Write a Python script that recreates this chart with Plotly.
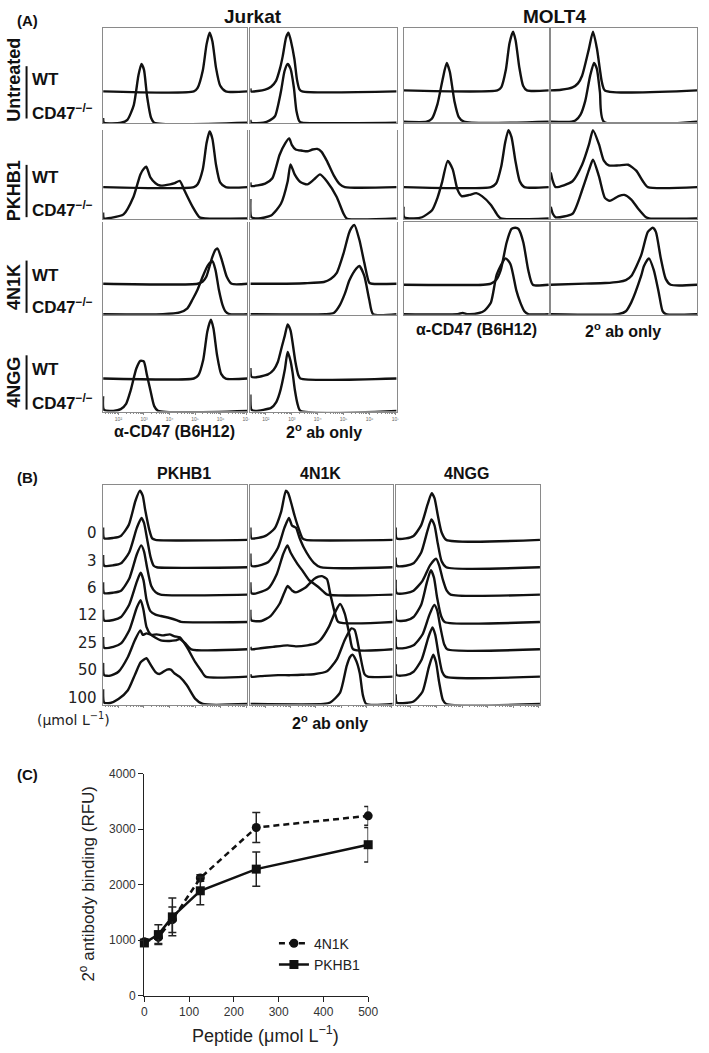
import plotly.graph_objects as go

W, H = 709, 1053

# ---------------- Panel A data: (log10 fluorescence, normalised count) ----------------
# Jurkat, alpha-CD47 (B6H12) column
JUR_UNT_AB_WT = [(1.4,0),(4.95,0),(5.1,0.06),(5.3,0.35),(5.45,0.8),(5.57,1.0),(5.68,0.85),(5.82,0.4),(5.98,0.1),(6.2,0),(7.05,0)]
JUR_UNT_AB_KO = [(1.4,0.08),(1.43,0),(2.1,0),(2.35,0.05),(2.6,0.3),(2.78,0.8),(2.9,1.0),(3.0,0.9),(3.12,0.45),(3.28,0.08),(3.4,0),(7.05,0)]
JUR_PK_AB_WT = [(1.4,0),(4.95,0),(5.1,0.05),(5.3,0.3),(5.45,0.75),(5.57,0.95),(5.68,0.82),(5.82,0.38),(5.98,0.08),(6.2,0),(7.05,0)]
JUR_PK_AB_KO = [(1.4,0.1),(1.43,0),(1.7,0.01),(2.2,0.07),(2.59,0.37),(2.86,0.75),(3.0,0.85),(3.09,0.88),(3.25,0.7),(3.45,0.6),(3.63,0.56),(4.02,0.58),(4.2,0.6),(4.4,0.64),(4.59,0.47),(4.9,0.2),(5.17,0.02),(5.4,0),(7.05,0)]
JUR_N1K_AB_WT = [(1.4,0),(5.1,0),(5.3,0.04),(5.44,0.12),(5.67,0.45),(5.8,0.58),(5.88,0.6),(6.05,0.4),(6.24,0.12),(6.43,0),(7.05,0)]
JUR_N1K_AB_KO = [(1.4,0),(3.74,0),(4.4,0.03),(4.7,0.1),(4.9,0.25),(5.1,0.42),(5.3,0.64),(5.5,0.83),(5.68,0.9),(5.8,0.75),(5.93,0.42),(6.08,0.15),(6.2,0.04),(6.35,0),(7.05,0)]
JUR_NGG_AB_WT = [(1.4,0),(4.95,0),(5.12,0.05),(5.32,0.32),(5.48,0.8),(5.62,1.0),(5.72,0.85),(5.86,0.4),(6.02,0.08),(6.2,0),(7.05,0)]
JUR_NGG_AB_KO = [(1.4,0.25),(1.43,0.02),(1.8,0),(2.09,0.03),(2.3,0.12),(2.48,0.35),(2.7,0.72),(2.86,0.85),(2.99,0.84),(3.12,0.6),(3.25,0.35),(3.4,0.08),(3.55,0),(7.05,0)]
# Jurkat, 2nd antibody only column
JUR_UNT_2AB_WT = [(1.4,0.05),(1.43,0),(1.97,0.03),(2.2,0.08),(2.39,0.18),(2.55,0.4),(2.65,0.6),(2.78,0.92),(2.87,1.0),(2.97,0.85),(3.1,0.55),(3.2,0.2),(3.29,0.04),(3.4,0),(7.05,0)]
JUR_UNT_2AB_KO = [(1.4,0.05),(1.43,0),(1.9,0),(2.15,0.04),(2.35,0.11),(2.58,0.53),(2.72,0.88),(2.84,1.0),(2.95,0.92),(3.08,0.6),(3.18,0.2),(3.3,0.02),(3.4,0),(7.05,0)]
JUR_PK_2AB_WT = [(1.4,0.08),(1.43,0.02),(1.97,0.06),(2.25,0.15),(2.53,0.55),(2.75,0.75),(2.9,0.83),(3.0,0.72),(3.15,0.64),(3.4,0.62),(3.6,0.61),(3.8,0.64),(3.98,0.65),(4.15,0.6),(4.35,0.45),(4.62,0.2),(4.85,0.05),(5.05,0),(7.05,0)]
JUR_PK_2AB_KO = [(1.4,0.33),(1.44,0.02),(1.7,0),(2.2,0.05),(2.58,0.25),(2.84,0.63),(2.95,0.92),(3.11,0.75),(3.33,0.62),(3.6,0.58),(3.85,0.66),(4.09,0.75),(4.36,0.63),(4.73,0.37),(5.0,0.08),(5.12,0),(7.05,0)]
JUR_N1K_2AB_WT = [(1.4,0),(2.5,0),(3.5,0.01),(4.24,0.03),(4.5,0.08),(4.73,0.18),(5.0,0.52),(5.2,0.85),(5.3,0.95),(5.42,1.0),(5.61,0.75),(5.8,0.36),(5.99,0.02),(6.1,0),(7.05,0)]
JUR_N1K_2AB_KO = [(1.4,0),(4.3,0),(4.62,0.02),(4.85,0.15),(5.05,0.35),(5.23,0.58),(5.5,0.78),(5.61,0.82),(5.8,0.65),(5.99,0.25),(6.14,0),(7.05,0)]
JUR_NGG_2AB_WT = [(1.4,0.18),(1.44,0.03),(1.59,0.02),(2.08,0.07),(2.3,0.15),(2.46,0.28),(2.62,0.55),(2.73,0.73),(2.84,0.92),(2.95,0.82),(3.05,0.55),(3.14,0.28),(3.25,0.06),(3.33,0),(7.05,0)]
JUR_NGG_2AB_KO = [(1.4,0.28),(1.44,0.02),(1.6,0),(2.2,0.05),(2.4,0.15),(2.53,0.3),(2.73,0.7),(2.84,1.0),(2.95,0.85),(3.03,0.65),(3.12,0.35),(3.22,0.12),(3.33,0),(7.05,0)]
# MOLT4, alpha-CD47 (B6H12) column
MOLT_UNT_AB_WT = [(1.4,0),(5.05,0),(5.2,0.05),(5.38,0.35),(5.52,0.8),(5.66,1.0),(5.76,0.85),(5.9,0.4),(6.05,0.08),(6.2,0),(7.05,0)]
MOLT_UNT_AB_KO = [(1.4,0),(2.3,0),(2.5,0.05),(2.72,0.3),(2.92,0.72),(3.08,1.0),(3.2,0.85),(3.38,0.35),(3.55,0.08),(3.75,0),(7.05,0)]
MOLT_PK_AB_WT = [(1.4,0),(4.8,0),(5.0,0.06),(5.2,0.35),(5.35,0.75),(5.48,0.97),(5.6,0.85),(5.75,0.45),(5.92,0.1),(6.1,0),(7.05,0)]
MOLT_PK_AB_KO = [(1.4,0.2),(1.43,0.02),(1.8,0),(2.12,0.02),(2.51,0.14),(2.72,0.35),(2.89,0.6),(3.12,0.98),(3.31,0.84),(3.5,0.49),(3.66,0.38),(3.96,0.4),(4.23,0.43),(4.45,0.38),(4.8,0.23),(5.05,0.06),(5.18,0),(7.05,0)]
MOLT_N1K_AB_WT = [(1.4,0),(4.5,0),(4.8,0.02),(5.0,0.08),(5.18,0.25),(5.41,0.72),(5.6,0.95),(5.75,0.97),(5.87,0.95),(6.06,0.72),(6.25,0.25),(6.43,0),(7.05,0)]
MOLT_N1K_AB_KO = [(1.4,0),(3.5,0),(3.7,0.02),(3.9,0),(4.34,0.02),(4.55,0.06),(4.8,0.2),(5.03,0.68),(5.37,0.95),(5.56,0.85),(5.79,0.4),(5.94,0.2),(6.1,0.05),(6.25,0),(7.05,0)]
# MOLT4, 2nd antibody only column
MOLT_UNT_2AB_WT = [(1.4,0),(1.8,0.01),(2.24,0.05),(2.45,0.12),(2.61,0.25),(2.88,0.72),(3.03,1.0),(3.18,0.72),(3.3,0.35),(3.37,0.15),(3.49,0),(7.05,0)]
MOLT_UNT_2AB_KO = [(1.4,0),(2.2,0),(2.35,0.02),(2.55,0.12),(2.73,0.35),(2.92,0.78),(3.07,1.0),(3.18,0.9),(3.3,0.5),(3.45,0),(7.05,0)]
MOLT_PK_2AB_WT = [(1.4,0.25),(1.48,0.1),(1.59,0),(2.24,0.1),(2.61,0.38),(2.88,0.73),(3.03,0.97),(3.26,0.73),(3.45,0.45),(3.64,0.37),(4.02,0.37),(4.39,0.38),(4.7,0.28),(4.96,0.1),(5.15,0),(7.05,0)]
MOLT_PK_2AB_KO = [(1.4,0.2),(1.48,0.08),(1.59,0.02),(2.24,0.08),(2.61,0.48),(2.88,0.83),(3.03,1.0),(3.26,0.72),(3.49,0.35),(3.68,0.3),(4.02,0.38),(4.24,0.4),(4.51,0.32),(4.77,0.17),(5.08,0.02),(5.2,0),(7.05,0)]
MOLT_N1K_2AB_WT = [(1.4,0),(2.73,0.02),(3.5,0.03),(4.02,0.05),(4.3,0.08),(4.51,0.15),(4.89,0.5),(5.15,0.9),(5.34,0.97),(5.46,0.9),(5.65,0.45),(5.84,0.1),(6.03,0),(7.05,0)]
MOLT_N1K_2AB_KO = [(1.4,0),(4.0,0),(4.3,0.05),(4.51,0.2),(4.89,0.65),(5.0,0.82),(5.19,0.95),(5.38,0.75),(5.57,0.37),(5.72,0.05),(5.85,0),(7.05,0)]

# ---------------- Panel B data: peptide dose series (µmol/L) ----------------
DOSE_LABELS = ["0", "3", "6", "12", "25", "50", "100"]
B_PK_D0 = [(1.4,0.25),(1.44,0.03),(1.8,0.04),(2.09,0.08),(2.4,0.3),(2.67,0.8),(2.84,1.0),(2.95,0.9),(3.05,0.6),(3.21,0.2),(3.32,0.03),(3.45,0),(7.05,0)]
B_PK_D3 = [(1.4,0.25),(1.44,0.03),(1.8,0.04),(2.1,0.08),(2.42,0.3),(2.72,0.8),(2.9,1.0),(3.0,0.9),(3.12,0.58),(3.26,0.2),(3.38,0.03),(3.5,0),(7.05,0)]
B_PK_D6 = [(1.4,0.25),(1.44,0.03),(1.8,0.04),(2.1,0.08),(2.42,0.32),(2.72,0.82),(2.89,1.0),(3.0,0.88),(3.12,0.55),(3.28,0.18),(3.45,0.05),(3.65,0),(7.05,0)]
B_PK_D12 = [(1.4,0.25),(1.44,0.03),(1.8,0.04),(2.1,0.1),(2.42,0.35),(2.72,0.82),(2.87,1.0),(2.98,0.85),(3.1,0.45),(3.25,0.22),(3.45,0.15),(3.66,0.12),(4.0,0.08),(4.3,0.03),(4.45,0),(7.05,0)]
B_PK_D25 = [(1.4,0.25),(1.44,0.03),(1.8,0.05),(2.1,0.12),(2.42,0.38),(2.72,0.85),(2.87,1.0),(2.98,0.8),(3.1,0.45),(3.26,0.3),(3.66,0.18),(4.0,0.17),(4.23,0.18),(4.4,0.21),(4.62,0.12),(4.85,0),(7.05,0)]
B_PK_D50 = [(1.4,0.28),(1.44,0.03),(1.68,0.02),(2.0,0.1),(2.37,0.4),(2.65,0.75),(2.86,0.94),(2.95,0.85),(3.1,0.88),(3.3,0.85),(3.5,0.86),(3.75,0.84),(4.0,0.86),(4.2,0.82),(4.4,0.8),(4.68,0.6),(5.0,0.3),(5.24,0.12),(5.41,0),(7.05,0)]
B_PK_D100 = [(1.4,0.3),(1.44,0.03),(1.68,0.02),(2.0,0.1),(2.37,0.28),(2.65,0.6),(2.87,0.85),(3.1,0.93),(3.2,0.85),(3.45,0.65),(3.6,0.61),(3.9,0.7),(4.05,0.7),(4.2,0.62),(4.4,0.55),(4.68,0.38),(5.0,0.11),(5.3,0),(7.05,0)]
B_N1K_D0 = [(1.4,0.25),(1.44,0.03),(1.58,0.03),(2.0,0.08),(2.36,0.23),(2.62,0.57),(2.81,1.0),(2.9,0.95),(3.01,0.77),(3.15,0.5),(3.27,0.3),(3.47,0.03),(3.6,0),(7.05,0)]
B_N1K_D3 = [(1.4,0.28),(1.44,0.03),(1.6,0.02),(2.1,0.1),(2.49,0.39),(2.75,0.8),(2.93,1.0),(3.05,0.85),(3.21,0.8),(3.35,0.6),(3.53,0.39),(3.75,0.2),(3.92,0.09),(4.18,0),(7.05,0)]
B_N1K_D6 = [(1.4,0.25),(1.44,0.03),(1.6,0.02),(2.1,0.12),(2.45,0.42),(2.7,0.82),(2.87,1.0),(3.0,0.85),(3.26,0.63),(3.49,0.47),(3.72,0.3),(4.06,0.17),(4.3,0.06),(4.45,0),(7.05,0)]
B_N1K_D12 = [(1.4,0.25),(1.44,0.03),(1.84,0.02),(2.2,0.12),(2.56,0.37),(2.75,0.6),(2.88,0.73),(3.05,0.64),(3.21,0.6),(3.59,0.7),(3.92,0.87),(4.1,0.92),(4.24,0.93),(4.44,0.87),(4.57,0.57),(4.76,0.17),(4.89,0),(7.05,0)]
B_N1K_D25 = [(1.4,0.05),(1.44,0.0),(1.8,0.02),(2.3,0.05),(2.88,0.08),(3.2,0.06),(3.66,0.08),(4.0,0.12),(4.18,0.19),(4.51,0.45),(4.76,0.75),(4.96,0.92),(5.15,0.72),(5.35,0.25),(5.48,0),(7.05,0)]
B_N1K_D50 = [(1.4,0.05),(1.44,0.0),(1.8,0.01),(2.5,0.03),(3.0,0.03),(3.5,0.04),(3.92,0.05),(4.44,0.11),(4.83,0.35),(5.15,0.75),(5.41,0.98),(5.54,0.95),(5.74,0.48),(5.93,0.05),(6.06,0),(7.05,0)]
B_N1K_D100 = [(1.4,0),(4.3,0),(4.57,0.03),(4.96,0.23),(5.22,0.77),(5.35,0.95),(5.45,1.0),(5.6,0.88),(5.74,0.63),(5.87,0.17),(6.0,0),(7.05,0)]
B_NGG_D0 = [(1.4,0.25),(1.44,0.03),(1.8,0.03),(2.1,0.08),(2.4,0.3),(2.65,0.72),(2.81,0.95),(2.92,0.85),(3.05,0.5),(3.2,0.15),(3.38,0),(7.05,0)]
B_NGG_D3 = [(1.4,0.2),(1.44,0.03),(1.8,0.03),(2.1,0.08),(2.4,0.3),(2.65,0.75),(2.8,0.97),(2.92,0.85),(3.05,0.48),(3.2,0.12),(3.38,0),(7.05,0)]
B_NGG_D6 = [(1.4,0.3),(1.44,0.03),(1.8,0.03),(2.1,0.08),(2.45,0.28),(2.75,0.6),(2.98,0.73),(3.1,0.6),(3.25,0.3),(3.4,0.08),(3.55,0),(7.05,0)]
B_NGG_D12 = [(1.4,0.25),(1.44,0.03),(1.8,0.03),(2.1,0.1),(2.4,0.35),(2.62,0.8),(2.78,1.05),(2.9,0.9),(3.02,0.5),(3.18,0.12),(3.32,0),(7.05,0)]
B_NGG_D25 = [(1.4,0.25),(1.44,0.03),(1.8,0.03),(2.1,0.08),(2.45,0.3),(2.72,0.7),(2.91,0.9),(3.02,0.8),(3.15,0.45),(3.3,0.1),(3.42,0),(7.05,0)]
B_NGG_D50 = [(1.4,0.25),(1.44,0.03),(1.8,0.03),(2.1,0.1),(2.42,0.35),(2.68,0.8),(2.84,1.0),(2.95,0.85),(3.08,0.45),(3.22,0.1),(3.35,0),(7.05,0)]
B_NGG_D100 = [(1.4,0.2),(1.44,0.03),(1.8,0.02),(2.1,0.05),(2.45,0.25),(2.7,0.75),(2.87,1.0),(2.98,0.85),(3.1,0.45),(3.25,0.08),(3.38,0),(7.05,0)]

# ---------------- Panel C data ----------------
PEPTIDE_UM = [0, 31.25, 62.5, 125, 250, 500]
N1K_MEAN = [970, 1050, 1370, 2120, 3030, 3240]
N1K_SD = [50, 110, 230, 60, 270, 170]
PKHB1_MEAN = [950, 1100, 1420, 1890, 2280, 2720]
PKHB1_SD = [60, 180, 340, 250, 310, 310]

DECADE_TICKS = [2, 3, 4, 5, 6, 7]
DECADE_TEXT = ["10²", "10³", "10⁴", "10⁵", "10⁶", "10⁷"]

# ---------------- figure building ----------------
ARIAL = "Liberation Sans, Arial, sans-serif"
VERD = "DejaVu Sans, Verdana, sans-serif"
BOX = "#8a8a8a"
fig = go.Figure()
_n = [0]


def px_x(v):
    return v / W


def px_y(v):
    return 1 - v / H


def add_cell(left, top, right, bottom, unit, curves, top_line=True, labels=False, ticks=False):
    _n[0] += 1
    n = _n[0]
    xa, ya = ("x", "y") if n == 1 else (f"x{n}", f"y{n}")
    ymax = (bottom - top) / unit
    for pts, off_px in curves:
        fig.add_trace(go.Scatter(
            x=[10 ** p[0] for p in pts], y=[p[1] + off_px / unit for p in pts],
            mode="lines", xaxis=xa, yaxis=ya, showlegend=False, hoverinfo="skip",
            line=dict(color="#111", width=2.4, shape="spline", smoothing=0.6)))
    xk = "xaxis" if n == 1 else f"xaxis{n}"
    yk = "yaxis" if n == 1 else f"yaxis{n}"
    xaxis = dict(domain=[px_x(left), px_x(right)], anchor=ya, type="log", range=[1.4, 7.05],
                 showgrid=False, zeroline=False, showline=True, linecolor=BOX, linewidth=1,
                 mirror=top_line, showticklabels=False, ticks="", fixedrange=True)
    if labels or ticks:
        xaxis.update(tickvals=[10 ** d for d in DECADE_TICKS], ticks="outside", ticklen=2,
                     tickcolor=BOX, tickwidth=1,
                     minor=dict(ticks="outside", ticklen=1.5, tickcolor=BOX, dtick="D1"))
    if labels:
        xaxis.update(showticklabels=True, ticktext=DECADE_TEXT,
                     tickfont=dict(size=5, color="#666", family=ARIAL))
    fig.update_layout(**{
        xk: xaxis,
        yk: dict(domain=[px_y(bottom), px_y(top)], anchor=xa, range=[-0.012, ymax],
                 showgrid=False, zeroline=False, showline=True, linecolor=BOX, linewidth=1,
                 mirror=True, showticklabels=False, ticks="", fixedrange=True),
    })


# Panel A: Jurkat (rows: top, bottom, WT offset px)
JUR_ROWS = [(21, 118, 32, True), (125, 215, 32, False), (218, 312, 31, False), (312, 410, 33, False)]
JUR_AB = [(JUR_UNT_AB_WT, JUR_UNT_AB_KO), (JUR_PK_AB_WT, JUR_PK_AB_KO),
          (JUR_N1K_AB_WT, JUR_N1K_AB_KO), (JUR_NGG_AB_WT, JUR_NGG_AB_KO)]
JUR_2AB = [(JUR_UNT_2AB_WT, JUR_UNT_2AB_KO), (JUR_PK_2AB_WT, JUR_PK_2AB_KO),
           (JUR_N1K_2AB_WT, JUR_N1K_2AB_KO), (JUR_NGG_2AB_WT, JUR_NGG_2AB_KO)]
for i, (t, b, off, tl) in enumerate(JUR_ROWS):
    last = i == 3
    add_cell(102, t, 249, b, 60, [(JUR_AB[i][1], 0), (JUR_AB[i][0], off)], tl, labels=last)
    add_cell(252, t, 401, b, 60, [(JUR_2AB[i][1], 0), (JUR_2AB[i][0], off)], tl, labels=last)

MOLT_ROWS = [(21, 117, 32), (119, 215, 32), (218, 312, 30)]
MOLT_AB = [(MOLT_UNT_AB_WT, MOLT_UNT_AB_KO), (MOLT_PK_AB_WT, MOLT_PK_AB_KO), (MOLT_N1K_AB_WT, MOLT_N1K_AB_KO)]
MOLT_2AB = [(MOLT_UNT_2AB_WT, MOLT_UNT_2AB_KO), (MOLT_PK_2AB_WT, MOLT_PK_2AB_KO), (MOLT_N1K_2AB_WT, MOLT_N1K_2AB_KO)]
for i, (t, b, off) in enumerate(MOLT_ROWS):
    add_cell(408, t, 556, b, 60, [(MOLT_AB[i][1], 0), (MOLT_AB[i][0], off)], True)
    add_cell(558, t, 707, b, 60, [(MOLT_2AB[i][1], 0), (MOLT_2AB[i][0], off)], True)

# Panel B
B_COLS = [(102, 249, [B_PK_D0, B_PK_D3, B_PK_D6, B_PK_D12, B_PK_D25, B_PK_D50, B_PK_D100]),
          (252, 397, [B_N1K_D0, B_N1K_D3, B_N1K_D6, B_N1K_D12, B_N1K_D25, B_N1K_D50, B_N1K_D100]),
          (400, 547, [B_NGG_D0, B_NGG_D3, B_NGG_D6, B_NGG_D12, B_NGG_D25, B_NGG_D50, B_NGG_D100])]
B_TOP, B_BOT, B_STEP = 484, 707, 27.8
for left, right, series in B_COLS:
    curves = [(s, (len(series) - 1 - k) * B_STEP) for k, s in enumerate(series)]
    add_cell(left, B_TOP, right, B_BOT, 50, curves[::-1], True, ticks=True)

# Panel C
_n[0] += 1
nc = _n[0]
xc, yc = f"x{nc}", f"y{nc}"
fig.add_trace(go.Scatter(
    x=PEPTIDE_UM, y=N1K_MEAN, name="4N1K", mode="lines+markers", xaxis=xc, yaxis=yc,
    line=dict(color="#111", width=2.5, dash="6px,4px"), marker=dict(symbol="circle", size=9, color="#111"),
    error_y=dict(type="data", array=N1K_SD, visible=True, color="#222", thickness=1.5, width=4),
    cliponaxis=False))
fig.add_trace(go.Scatter(
    x=PEPTIDE_UM, y=PKHB1_MEAN, name="PKHB1", mode="lines+markers", xaxis=xc, yaxis=yc,
    line=dict(color="#111", width=2.5), marker=dict(symbol="square", size=9, color="#111"),
    error_y=dict(type="data", array=PKHB1_SD, visible=True, color="#222", thickness=1.5, width=4),
    cliponaxis=False))
fig.update_layout(**{
    f"xaxis{nc}": dict(domain=[px_x(144), px_x(372)], anchor=yc, range=[0, 500], tickvals=[0, 100, 200, 300, 400, 500],
                       showgrid=False, zeroline=False, showline=True, linecolor="#222", linewidth=1.3,
                       ticks="outside", ticklen=5, tickcolor="#222", tickwidth=1.2,
                       tickfont=dict(family=ARIAL, size=12, color="#333"), fixedrange=True),
    f"yaxis{nc}": dict(domain=[px_y(1002), px_y(777)], anchor=xc, range=[0, 4000], tickvals=[0, 1000, 2000, 3000, 4000],
                       showgrid=False, zeroline=False, showline=True, linecolor="#222", linewidth=1.3,
                       ticks="outside", ticklen=5, tickcolor="#222", tickwidth=1.2,
                       tickfont=dict(family=ARIAL, size=12, color="#333"), fixedrange=True),
})


def txt(x, y, s, size, family=ARIAL, xanchor="center", angle=0, color="#111"):
    fig.add_annotation(x=px_x(x), y=px_y(y), xref="paper", yref="paper", text=s, showarrow=False,
                       xanchor=xanchor, yanchor="middle", textangle=angle,
                       font=dict(family=family, size=size, color=color))


def vbar(x, y0, y1):
    fig.add_shape(type="line", xref="paper", yref="paper", x0=px_x(x), x1=px_x(x), y0=px_y(y0), y1=px_y(y1),
                  line=dict(color="#111", width=2))


# Panel A text
txt(12, 14, "<b>(A)</b>", 15, xanchor="left")
txt(255, 10, "<b>Jurkat</b>", 19)
txt(562, 10, "<b>MOLT4</b>", 19)
ROW_NAMES = [("Untreated", 74, 60, 113, 73, 106), ("PKHB1", 186, 160, 213, 173, 205),
             ("4N1K", 284, 257, 310, 272, 303), ("4NGG", 380, 353, 408, 367, 400)]
for name, yc_, b0, b1, ywt, yko in ROW_NAMES:
    txt(11, yc_, f"<b>{name}</b>", 18, angle=-90)
    vbar(24, b0, b1)
    txt(27, ywt, "<b>WT</b>", 17, xanchor="left")
    txt(27, yko, "<b>CD47<sup>−/−</sup></b>", 17, xanchor="left")
txt(175, 430, "<b>α-CD47 (B6H12)</b>", 16)
txt(327, 430, "<b>2<sup>o</sup> ab only</b>", 16)
txt(482, 327, "<b>α-CD47 (B6H12)</b>", 16)
txt(632, 327, "<b>2<sup>o</sup> ab only</b>", 16)

# Panel B text
txt(12, 477, "<b>(B)</b>", 15, xanchor="left")
txt(184, 473, "<b>PKHB1</b>", 16)
txt(323, 473, "<b>4N1K</b>", 16)
txt(472, 473, "<b>4NGG</b>", 16)
for k, lab in enumerate(DOSE_LABELS):
    txt(98, B_BOT - (len(DOSE_LABELS) - 1 - k) * B_STEP - 7, lab, 15, family=VERD, xanchor="right", color="#222")
txt(33, 722, "(μmol L<sup>−1</sup>)", 14, family=VERD, xanchor="left", color="#222")
txt(333, 725, "<b>2<sup>o</sup> ab only</b>", 16)

# Panel C text
txt(12, 778, "<b>(C)</b>", 15, xanchor="left")
txt(86, 888, "2<sup>o</sup> antibody binding (RFU)", 17, angle=-90, color="#222")
txt(267, 1041, "Peptide (μmol L<sup>−1</sup>)", 18, color="#222")

fig.update_layout(
    width=W, height=H, margin=dict(l=0, r=0, t=0, b=0),
    paper_bgcolor="white", plot_bgcolor="rgba(0,0,0,0)",
    showlegend=True,
    legend=dict(x=px_x(276), y=px_y(933), xanchor="left", yanchor="top", bgcolor="rgba(0,0,0,0)",
                font=dict(family=ARIAL, size=14, color="#222"), itemwidth=30, tracegroupgap=0),
)

fig.write_html("out.html", config={"displayModeBar": False},
               post_script="document.body.style.margin='0';document.body.style.overflow='hidden';")
